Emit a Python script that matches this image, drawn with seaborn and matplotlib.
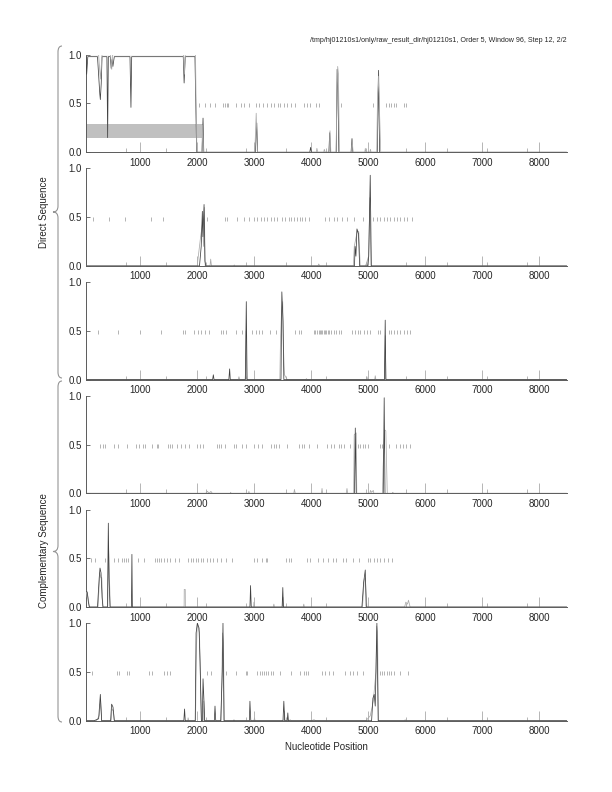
import numpy as np
import pandas as pd
import matplotlib
matplotlib.use("Agg")
import matplotlib.pyplot as plt
from matplotlib.path import Path
from matplotlib.patches import PathPatch
from matplotlib.ticker import FixedLocator, FormatStrFormatter
import seaborn as sns

sns.set_theme(style="white")
plt.rcParams['font.family'] = ['Liberation Sans', 'DejaVu Sans']

TITLE = "/tmp/hj01210s1/only/raw_result_dir/hj01210s1, Order 5, Window 96, Step 12, 2/2"
SEQ_START = 48
SEQ_END = 8484
MAJOR_TICKS = [1000, 2000, 3000, 4000, 5000, 6000, 7000, 8000]
Y_TICKS = [0.0, 0.5, 1.0]

# predicted gene region (frame 1, direct)
GENE_REGIONS = [(48, 2102, 0.15, 0.29)]

# (position, probability) breakpoints, two curves per frame
P1_DARK = [(48, 0.98), (60, 0.80), (80, 0.98), (250, 0.98), (290, 0.60), (300, 0.54), (315, 0.70),
           (330, 0.98), (415, 0.98), (428, 0.15), (440, 0.98), (475, 0.98), (490, 0.86), (505, 0.95),
           (520, 0.88), (545, 0.98), (820, 0.98), (837, 0.46), (850, 0.98), (1755, 0.98), (1770, 0.71),
           (1790, 0.98), (1960, 0.98), (1990, 0.0), (2085, 0.0), (2102, 0.35), (2115, 0.0),
           (3020, 0.0), (3045, 0.30), (3060, 0.0), (3975, 0.0), (3990, 0.05), (4005, 0.0),
           (4310, 0.0), (4325, 0.20), (4340, 0.0), (4440, 0.0), (4455, 0.85), (4470, 0.60),
           (4485, 0.0), (4700, 0.0), (4716, 0.14), (4730, 0.0), (5160, 0.0), (5183, 0.84),
           (5200, 0.0), (8484, 0.0)]
P1_LIGHT = [(48, 1.0), (270, 1.0), (300, 0.75), (330, 1.0), (480, 1.0), (500, 0.85), (515, 1.0),
            (1760, 1.0), (1775, 0.80), (1790, 1.0), (1970, 1.0), (1980, 0.5), (1995, 0.0),
            (2080, 0.0), (2095, 0.28), (2110, 0.0), (3010, 0.0), (3035, 0.40), (3055, 0.0),
            (4090, 0.0), (4100, 0.04), (4115, 0.0), (4220, 0.0), (4230, 0.03), (4245, 0.0),
            (4315, 0.0), (4330, 0.22), (4345, 0.0), (4435, 0.0), (4450, 0.45), (4465, 0.88),
            (4478, 0.80), (4495, 0.0), (4705, 0.0), (4720, 0.12), (4735, 0.0), (4940, 0.0),
            (4950, 0.04), (4960, 0.0), (5030, 0.0), (5040, 0.03), (5050, 0.0), (5150, 0.0),
            (5165, 0.6), (5180, 0.78), (5200, 0.4), (5220, 0.0), (8484, 0.0)]
P2_DARK = [(48, 0), (2040, 0), (2070, 0.2), (2090, 0.56), (2100, 0.3), (2120, 0.63), (2135, 0.05),
           (2150, 0), (4760, 0), (4770, 0.2), (4785, 0.1), (4803, 0.38), (4830, 0.33), (4850, 0),
           (4990, 0), (5010, 0.1), (5036, 0.93), (5055, 0), (8484, 0)]
P2_LIGHT = [(48, 0), (2000, 0), (2015, 0.08), (2060, 0.3), (2095, 0.45), (2110, 0.2), (2125, 0.6),
            (2140, 0), (2225, 0), (2236, 0.07), (2250, 0), (2640, 0), (2650, 0.01), (2660, 0),
            (4120, 0), (4132, 0.02), (4150, 0), (4740, 0), (4756, 0.2), (4810, 0.36), (4835, 0.35),
            (4860, 0), (4950, 0), (4966, 0.02), (5007, 0.1), (5030, 0.7), (5050, 0), (8484, 0)]
P3_DARK = [(48, 0), (2270, 0), (2283, 0.05), (2295, 0), (2555, 0), (2569, 0.11), (2580, 0),
           (2845, 0), (2861, 0.80), (2875, 0), (3470, 0), (3485, 0.90), (3505, 0.6), (3520, 0),
           (5285, 0), (5299, 0.61), (5310, 0), (8484, 0)]
P3_LIGHT = [(48, 0), (2720, 0), (2732, 0.03), (2745, 0), (2840, 0), (2850, 0.1), (2858, 0.5),
            (2870, 0), (3450, 0), (3461, 0.4), (3480, 0.7), (3500, 0.8), (3515, 0.3), (3531, 0.05),
            (3560, 0.02), (3580, 0), (3905, 0), (3916, 0.01), (3930, 0), (4970, 0), (4978, 0.03),
            (4990, 0), (5115, 0), (5124, 0.04), (5135, 0), (5290, 0), (5300, 0.45), (5312, 0),
            (8484, 0)]
P4_DARK = [(48, 0), (4760, 0), (4774, 0.67), (4790, 0), (5265, 0), (5281, 0.98), (5295, 0), (8484, 0)]
P4_LIGHT = [(48, 0), (2150, 0), (2180, 0.02), (2210, 0.0), (2240, 0.02), (2265, 0), (2580, 0),
            (2586, 0.01), (2595, 0), (2900, 0), (2907, 0.02), (2915, 0), (3695, 0), (3706, 0.04),
            (3720, 0), (4180, 0), (4190, 0.05), (4200, 0), (4615, 0), (4628, 0.05), (4640, 0),
            (4745, 0), (4755, 0.6), (4790, 0.62), (4800, 0), (5030, 0), (5040, 0.03), (5060, 0.01),
            (5090, 0.03), (5100, 0), (5250, 0), (5262, 0.27), (5290, 0.65), (5310, 0.64), (5335, 0),
            (5428, 0), (5433, 0.01), (5440, 0), (8484, 0)]
P5_DARK = [(48, 0.17), (70, 0.15), (90, 0.05), (107, 0), (250, 0), (280, 0.3), (294, 0.4),
           (312, 0.35), (330, 0.1), (346, 0), (425, 0), (440, 0.86), (452, 0.3), (470, 0), (845, 0),
           (854, 0.54), (862, 0), (2925, 0), (2936, 0.22), (2948, 0), (3490, 0), (3502, 0.2),
           (3512, 0), (4890, 0), (4920, 0.25), (4949, 0.38), (4965, 0), (8484, 0)]
P5_LIGHT = [(48, 0.1), (60, 0.17), (85, 0.1), (107, 0), (260, 0), (290, 0.35), (310, 0.3),
            (325, 0.3), (345, 0), (430, 0), (445, 0.6), (452, 0.45), (475, 0), (1770, 0),
            (1772, 0.18), (1790, 0.18), (1792, 0), (2990, 0), (2995, 0.05), (3005, 0), (3335, 0),
            (3345, 0.03), (3355, 0), (3495, 0), (3505, 0.1), (3515, 0), (3860, 0), (3870, 0.03),
            (3880, 0), (4900, 0), (4930, 0.28), (4950, 0.3), (4978, 0), (5640, 0), (5660, 0.05),
            (5690, 0.03), (5707, 0.07), (5736, 0), (8484, 0)]
P6_DARK = [(48, 0), (190, 0), (270, 0.02), (300, 0.27), (323, 0), (480, 0), (498, 0.17), (522, 0.14),
           (545, 0), (1765, 0), (1778, 0.12), (1790, 0), (1965, 0), (1980, 0.9), (2003, 1.0),
           (2032, 0.95), (2050, 0.6), (2073, 0), (2090, 0), (2102, 0.43), (2120, 0.18), (2130, 0),
           (2300, 0), (2312, 0.15), (2325, 0), (2412, 0), (2440, 0.5), (2452, 1.0), (2470, 0),
           (2915, 0), (2925, 0.2), (2940, 0), (3505, 0), (3520, 0.2), (3535, 0), (3580, 0),
           (3590, 0.08), (3600, 0), (5060, 0), (5083, 0.23), (5106, 0.27), (5124, 0.15),
           (5140, 0.6), (5153, 1.0), (5176, 0), (8484, 0)]
P6_LIGHT = [(48, 0), (230, 0), (280, 0.05), (305, 0.2), (323, 0), (490, 0), (505, 0.12), (530, 0.1),
            (545, 0), (1835, 0), (1840, 0.03), (1850, 0), (1970, 0), (1985, 0.7), (2000, 1.0),
            (2040, 0.9), (2060, 0.3), (2073, 0), (2105, 0), (2115, 0.2), (2130, 0), (2420, 0),
            (2445, 0.9), (2460, 0.8), (2475, 0), (2640, 0), (2645, 0.01), (2650, 0), (2995, 0),
            (3005, 0.03), (3015, 0), (3525, 0), (3530, 0.1), (3540, 0), (3620, 0), (3630, 0.01),
            (3650, 0), (4000, 0), (4050, 0.01), (4080, 0), (4960, 0), (4990, 0.02), (5036, 0.05),
            (5090, 0.2), (5136, 0.5), (5150, 0.97), (5165, 0.9), (5178, 0), (5640, 0), (5649, 0.01),
            (5660, 0), (8484, 0)]

# codon markers drawn at 0.5 in each frame
P1_MARKS = [2032, 2131, 2225, 2306, 2458, 2487, 2516, 2546, 2674, 2761, 2820, 2907, 3024, 3082,
            3158, 3228, 3286, 3345, 3415, 3461, 3520, 3578, 3648, 3724, 3870, 3928, 3986, 4091,
            4144, 4523, 5083, 5316, 5357, 5398, 5445, 5491, 5631, 5666]
P2_MARKS = [177, 457, 737, 1186, 1402, 2178, 2481, 2528, 2703, 2820, 2907, 2995, 3053, 3111, 3170,
            3228, 3286, 3345, 3403, 3490, 3549, 3607, 3654, 3695, 3753, 3800, 3840, 3899, 3957,
            4249, 4307, 4395, 4453, 4540, 4628, 4745, 4908, 5083, 5153, 5211, 5270, 5328, 5386,
            5445, 5503, 5561, 5620, 5678, 5766]
P3_MARKS = [265, 615, 994, 1361, 1758, 1781, 1945, 2015, 2073, 2131, 2207, 2411, 2458, 2499, 2674,
            2779, 2966, 3024, 3082, 3141, 3275, 3374, 3724, 3782, 3823, 4045, 4074, 4103, 4132,
            4150, 4173, 4190, 4220, 4249, 4266, 4290, 4307, 4348, 4395, 4442, 4482, 4523, 4716,
            4774, 4815, 4861, 4920, 4978, 5025, 5165, 5211, 5357, 5398, 5445, 5503, 5561, 5620,
            5678, 5736]
P4_MARKS = [300, 341, 381, 533, 603, 766, 924, 982, 1041, 1087, 1204, 1291, 1315, 1490, 1525, 1566,
            1653, 1711, 1781, 1857, 1991, 2050, 2108, 2341, 2382, 2423, 2481, 2645, 2686, 2791,
            2849, 2995, 3071, 3141, 3298, 3345, 3386, 3432, 3578, 3782, 3840, 3881, 3957, 4103,
            4278, 4348, 4395, 4482, 4529, 4570, 4675, 4820, 4861, 4908, 4949, 4990, 5200, 5241,
            5281, 5369, 5491, 5550, 5608, 5666, 5736]
P5_MARKS = [137, 207, 381, 545, 603, 673, 708, 749, 778, 965, 1070, 1256, 1291, 1332, 1373, 1420,
            1478, 1525, 1612, 1682, 1840, 1886, 1933, 1974, 2015, 2061, 2108, 2166, 2225, 2283,
            2353, 2423, 2511, 2616, 2995, 3053, 3141, 3199, 3228, 3560, 3607, 3648, 3928, 3986,
            4115, 4208, 4290, 4377, 4441, 4552, 4616, 4733, 4832, 4990, 5036, 5095, 5153, 5211,
            5270, 5340, 5416]
P6_MARKS = [148, 591, 621, 766, 807, 1157, 1198, 1420, 1478, 1525, 2178, 2236, 2511, 2674, 2849,
            2878, 3053, 3094, 3129, 3170, 3211, 3246, 3286, 3333, 3444, 3648, 3811, 3881, 3916,
            3940, 4190, 4249, 4307, 4383, 4599, 4675, 4733, 4803, 4902, 5211, 5241, 5281, 5328,
            5363, 5398, 5445, 5561, 5707]

DARK = [P1_DARK, P2_DARK, P3_DARK, P4_DARK, P5_DARK, P6_DARK]
LIGHT = [P1_LIGHT, P2_LIGHT, P3_LIGHT, P4_LIGHT, P5_LIGHT, P6_LIGHT]
MARKS = [P1_MARKS, P2_MARKS, P3_MARKS, P4_MARKS, P5_MARKS, P6_MARKS]

AXIS_GREY = "#5a5a5a"
DARK_GREY = "#404040"
LIGHT_GREY = "#aaaaaa"
MARK_GREY = "#959595"


def to_frame(points):
    return pd.DataFrame(points, columns=["pos", "prob"])


fig, axes = plt.subplots(6, 1, figsize=(6.12, 7.92), dpi=100,
                         gridspec_kw=dict(left=0.1405, right=0.926, top=0.9309,
                                          bottom=0.0900, hspace=0.166))

for i, ax in enumerate(axes):
    if i == 0:
        for (g0, g1, y0, y1) in GENE_REGIONS:
            ax.fill_between([g0, g1], y0, y1, color="#c0c0c0", lw=0, zorder=1)
    ax.vlines(MARKS[i], 0.465, 0.505, color=MARK_GREY, lw=0.5, zorder=2)
    # in frame 1 the light curve sits on the plateau above the dark dips
    light_z = 5 if i == 0 else 3
    sns.lineplot(data=to_frame(LIGHT[i]), x="pos", y="prob", ax=ax, color=LIGHT_GREY,
                 lw=0.55, estimator=None, sort=False, zorder=light_z)
    sns.lineplot(data=to_frame(DARK[i]), x="pos", y="prob", ax=ax, color=DARK_GREY,
                 lw=0.55, estimator=None, sort=False, zorder=4)

    ax.set_xlim(SEQ_START, SEQ_END)
    ax.set_ylim(0, 1.0)
    ax.set_xlabel("")
    ax.set_ylabel("")
    ax.xaxis.set_major_locator(FixedLocator(MAJOR_TICKS))
    ax.xaxis.set_minor_locator(FixedLocator(np.linspace(SEQ_START, SEQ_END, 13)[1:-1]))
    ax.yaxis.set_major_locator(FixedLocator(Y_TICKS))
    ax.yaxis.set_major_formatter(FormatStrFormatter("%.1f"))
    ax.tick_params(axis="x", which="major", direction="in", length=7, width=0.6,
                   color=LIGHT_GREY, labelsize=7, pad=4)
    ax.tick_params(axis="x", which="minor", direction="in", length=3, width=0.6,
                   color=LIGHT_GREY)
    ax.tick_params(axis="y", direction="in", length=3, width=0.6, color=AXIS_GREY,
                   labelsize=7, pad=3)
    ax.tick_params(bottom=True, left=True, which="both")
    for side in ("top", "right"):
        ax.spines[side].set_visible(False)
    for side in ("left", "bottom"):
        ax.spines[side].set_color(AXIS_GREY)
        ax.spines[side].set_linewidth(0.7)
    ax.set_facecolor("white")

W, H = 612.0, 792.0


def brace(top, bottom, x_line=58.0, x_tip=53.0, x_end=62.0):
    mid = (top + bottom) / 2.0
    verts = [(x_end, top), (x_line, top), (x_line, top + 6),
             (x_line, mid - 6), (x_line, mid), (x_tip, mid),
             (x_line, mid), (x_line, mid + 6),
             (x_line, bottom - 6), (x_line, bottom), (x_end, bottom)]
    codes = [Path.MOVETO, Path.CURVE3, Path.CURVE3,
             Path.LINETO, Path.CURVE3, Path.CURVE3,
             Path.CURVE3, Path.CURVE3,
             Path.LINETO, Path.CURVE3, Path.CURVE3]
    verts = [(x / W, 1 - y / H) for x, y in verts]
    fig.add_artist(PathPatch(Path(verts, codes), fill=False, ec=MARK_GREY, lw=0.8,
                             transform=fig.transFigure))


brace(46, 378)
brace(381, 722)

fig.text(0.926, 1 - 40 / H, TITLE, ha="right", va="center", fontsize=5.1)
fig.text(44 / W, 1 - 212 / H, "Direct Sequence", rotation=90, ha="center", va="center",
         fontsize=7)
fig.text(44 / W, 1 - 551 / H, "Complementary Sequence", rotation=90, ha="center",
         va="center", fontsize=7)
fig.text((86 + 567) / 2 / W, 1 - 747 / H, "Nucleotide Position", ha="center", va="center",
         fontsize=7)

fig.savefig("out.png", dpi=100, facecolor="white")
